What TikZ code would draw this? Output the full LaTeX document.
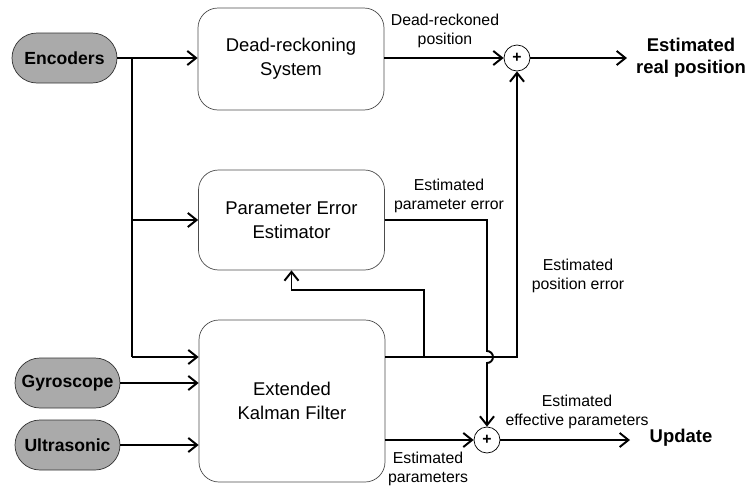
\documentclass[tikz,border=0pt]{standalone}
\usepackage{fontspec}
\setmainfont{Liberation Sans}
\usepackage{xcolor}
\usetikzlibrary{arrows.meta}
\definecolor{PillGray}{RGB}{170, 170, 170}

\begin{document}
\begin{tikzpicture}[
    >={Straight Barb[length=5pt,width=8pt]},
    sensor/.style={draw=black!80, fill=PillGray, rounded corners=0.5cm, minimum width=2.1cm, minimum height=1cm, font=\fontsize{10}{12}\selectfont\bfseries},
    block/.style={draw=black!70, rounded corners=0.4cm, minimum width=3.72cm, align=center, font=\fontsize{10.5}{13.5}\selectfont},
    sum/.style={draw, circle, inner sep=0pt, minimum size=0.52cm, font=\small\bfseries},
    lbl/.style={align=center, font=\fontsize{9}{11}\selectfont},
    flow/.style={->, line width=1.1pt}
]
            \useasboundingbox (0,0) rectangle (15,9.8);

            % Sensors
            \node[sensor] (enc) at (1.29,8.64) {Encoders};
            \node[sensor] (gyro) at (1.35,2.14) {Gyroscope};
            \node[sensor] (ultra) at (1.35,0.9) {Ultrasonic};

            % Blocks
            \node[block, minimum height=2.04cm] (dr) at (5.82,8.62) {Dead-reckoning\\System};
            \node[block, minimum height=2cm] (pee) at (5.83,5.4) {Parameter Error\\Estimator};
            \node[block, minimum height=3.24cm] (ekf) at (5.84,1.78) {Extended\\Kalman Filter};

            % Summing points
            \node[sum] (sumpos) at (10.34,8.64) {+};
            \node[sum] (sumpar) at (9.74,1.0) {+};

            % Encoders fan-out
            \coordinate (br) at (2.64,8.64);
            \draw[flow] (enc.east) -- (enc.east -| dr.west);
            \draw[line width=1.1pt] (br) -- (2.64,2.66);
            \draw[flow] (br |- pee.west) -- (pee.west);
            \draw[flow] (2.64,2.66) -- (ekf.west |- 0,2.66);
            \draw[flow] (gyro.east) -- (gyro.east -| ekf.west);
            \draw[flow] (ultra.east) -- (ultra.east -| ekf.west);

            % Position path
            \draw[flow] (dr.east |- sumpos) -- (sumpos.west);
            \node[lbl] (drlbl) at (8.9,9.18) {Dead-reckoned\\position};
            \coordinate (realend) at (12.54,8.64);
            \draw[flow] (sumpos.east) -- (realend);
            \node[align=center, font=\fontsize{10.5}{12.5}\selectfont\bfseries] (real) at (13.82,8.64) {Estimated\\real position};

            % EKF position error output
            \coordinate (split) at (8.48,2.66);
            \draw[flow] (ekf.east |- split) -- (10.34,2.66) -- (sumpos.south);
            \draw[flow] (split) -- (8.48,4.0) -- (pee.south |- 0,4.0) -- (pee.south);
            \node[lbl] (poslbl) at (11.56,4.28) {Estimated\\position error};

            % Parameter error path with hop
            \draw[flow] (pee.east) -- (9.74,5.4) -- (9.74,2.78) arc (90:-90:0.12) -- (sumpar.north);
            \node[lbl] (peelbl) at (8.98,5.88) {Estimated\\parameter error};

            % Parameters path
            \draw[flow] (ekf.east |- sumpar) -- (sumpar.west);
            \node[lbl] (parlbl) at (8.56,0.42) {Estimated\\parameters};
            \coordinate (updend) at (12.6,1.0);
            \draw[flow] (sumpar.east) -- (updend);
            \node[lbl] (efflbl) at (11.54,1.56) {Estimated\\effective parameters};
            \node[font=\fontsize{10.5}{12.5}\selectfont\bfseries] (upd) at (13.62,1.04) {Update};
        \end{tikzpicture}
\end{document}
